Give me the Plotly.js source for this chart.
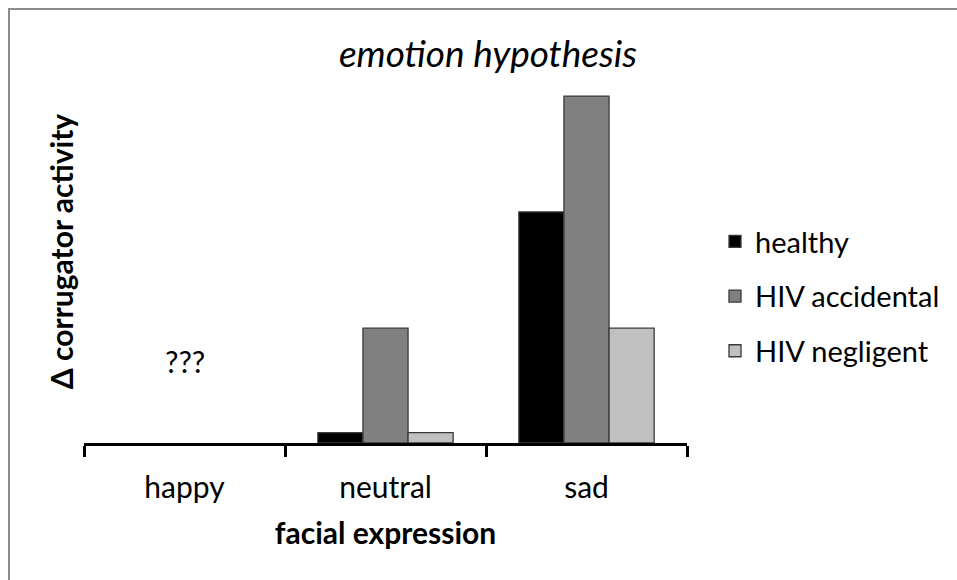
<!DOCTYPE html>
<html>
<head>
<meta charset="utf-8">
<script src="https://cdn.plot.ly/plotly-3.0.1.min.js"></script>
<style>
  html, body { margin: 0; padding: 0; background: #ffffff; }
  #frame { position: absolute; left: 0; top: 0; width: 957px; height: 580px; }
  #frame:before { content: ""; position: absolute; left: 8px; top: 8px; right: -10px; bottom: -10px; border-left: 2px solid #8c8c8c; border-top: 2px solid #8c8c8c; pointer-events: none; z-index: 5; }
  #chart { width: 957px; height: 580px; }
</style>
</head>
<body>
<div id="frame"><div id="chart"></div></div>
<script>
const categories = ["happy", "neutral", "sad"];
const seriesNames = ["healthy", "HIV accidental", "HIV negligent"];
const healthy = [null, 0.3, 6.66];
const hivAccidental = [null, 3.31, 10];
const hivNegligent = [null, 0.3, 3.31];
const seriesColors = ["#000000", "#808080", "#c0c0c0"];
const unknownLabel = "???";
const unknownValue = 2.35;

const FONT = "Lato, 'Open Sans', sans-serif";
const values = [healthy, hivAccidental, hivNegligent];

const traces = values.map((v, i) => ({
  type: "bar",
  name: seriesNames[i],
  x: categories,
  y: v,
  legendgroup: "g" + i,
  marker: { color: seriesColors[i], line: { color: "#3a3a3a", width: 1.3 } },
  hoverinfo: "x+y+name"
}));

const layout = {
  width: 957,
  height: 580,
  paper_bgcolor: "rgba(0,0,0,0)",
  plot_bgcolor: "#ffffff",
  margin: { l: 84, r: 270, t: 60, b: 137, autoexpand: false },
  barmode: "group",
  bargap: 0.327,
  bargroupgap: 0,
  showlegend: true,
  font: { family: FONT, color: "#000000", size: 30 },
  title: {
    text: "<i>emotion hypothesis</i>",
    font: { family: FONT, size: 37, color: "#000000" },
    x: 488 / 957, xref: "container", xanchor: "center",
    y: 1 - 54 / 580, yref: "container", yanchor: "middle"
  },
  xaxis: {
    type: "category",
    categoryorder: "array",
    categoryarray: categories,
    range: [-0.5, 2.5],
    automargin: false,
    showline: true, linecolor: "#000000", linewidth: 2.5,
    ticks: "outside", tickson: "boundaries", ticklen: 11, tickwidth: 2.5, tickcolor: "#000000",
    ticklabelstandoff: 16,
    showgrid: false, zeroline: false,
    tickfont: { family: FONT, size: 30, color: "#000000" },
    title: { text: "<b>facial expression</b>", font: { family: FONT, size: 30, color: "#000000" }, standoff: 21 }
  },
  yaxis: {
    range: [0, 11.04],
    automargin: false,
    showline: false, showticklabels: false, ticks: "", showgrid: false, zeroline: false,
    title: { text: "<b>Δ corrugator activity</b>", font: { family: FONT, size: 30, color: "#000000" }, standoff: 0 }
  },
  legend: {
    xref: "container", yref: "container",
    x: 715 / 957, xanchor: "left",
    y: 1 - 216 / 580, yanchor: "top",
    font: { family: FONT, size: 29, color: "#000000" },
    tracegroupgap: 14,
    bgcolor: "rgba(0,0,0,0)",
    itemclick: false, itemdoubleclick: false
  },
  annotations: [{
    x: categories[0], y: unknownValue, xref: "x", yref: "y",
    text: unknownLabel, showarrow: false,
    font: { family: FONT, size: 30, color: "#000000" }
  }]
};

Plotly.newPlot("chart", traces, layout, { displayModeBar: false, staticPlot: false });
</script>
</body>
</html>
